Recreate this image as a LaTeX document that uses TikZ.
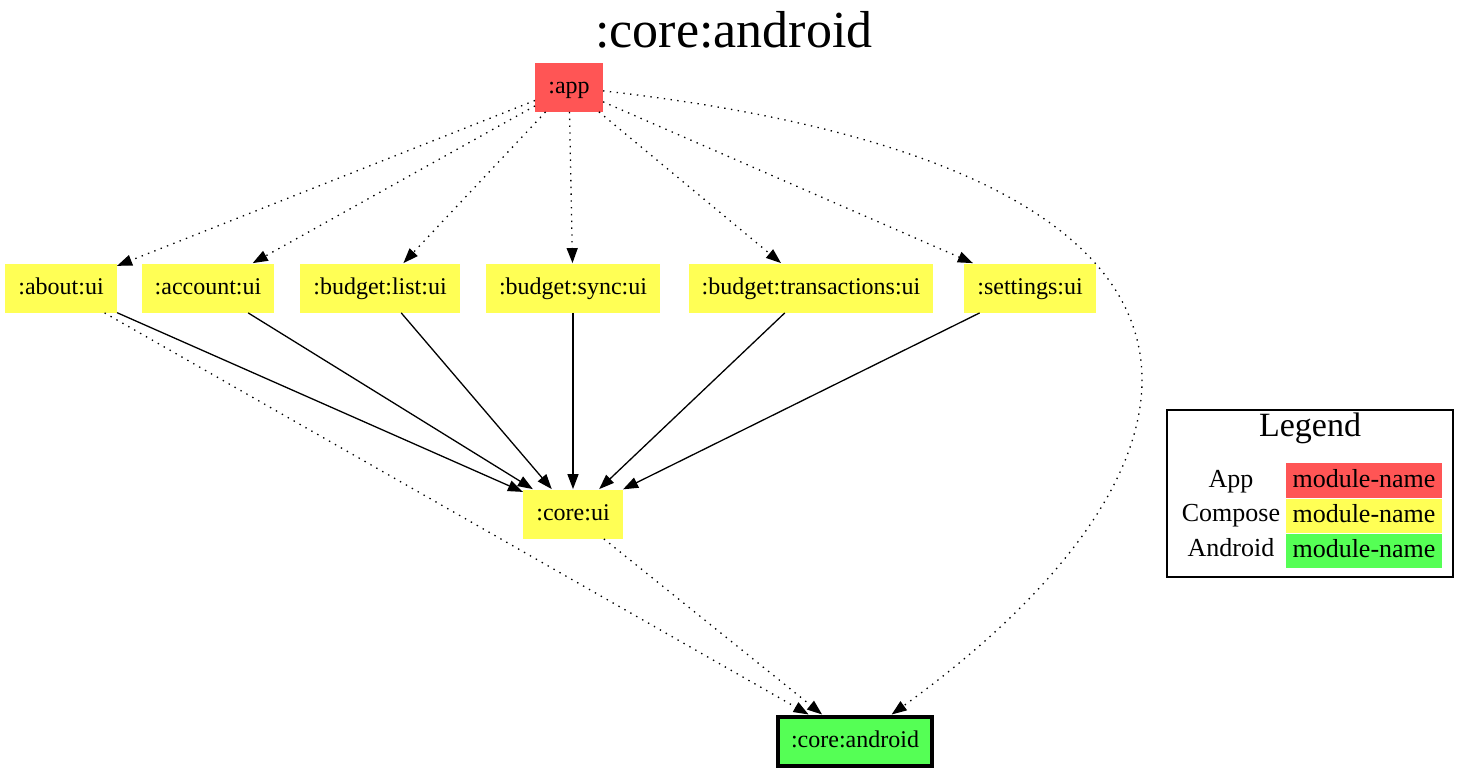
\documentclass[tikz,border=0pt]{standalone}
\usepackage{fontspec}
\setmainfont{Liberation Serif}
\usetikzlibrary{arrows.meta,positioning}
\definecolor{appred}{HTML}{FF5555}
\definecolor{composeyellow}{HTML}{FFFF55}
\definecolor{androidgreen}{HTML}{55FF55}
\tikzset{
    %Define standard arrow tip
    >={Triangle[length=7.5pt,width=5.5pt]},
    %Define style for module boxes
    module/.style={
           rectangle,
           inner xsep=6.5pt,
           text height=8.5pt,
           text depth=2pt,
           minimum height=24.5pt,
           font=\fontsize{12}{14}\selectfont},
    appmod/.style={module, fill=appred},
    composemod/.style={module, fill=composeyellow},
    androidmod/.style={module, fill=androidgreen, draw=black, line width=2pt},
    %Define style for the legend
    legendcell/.style={
           rectangle,
           inner sep=0pt,
           text height=8.5pt,
           text depth=2pt,
           minimum width=78pt,
           minimum height=17.25pt,
           font=\fontsize{13}{15}\selectfont},
    legendlabel/.style={
           text height=8.5pt,
           text depth=2pt,
           font=\fontsize{13}{15}\selectfont},
    % Define arrow styles
    dep/.style={->, line width=0.65pt},
    impl/.style={->, line width=0.65pt, dash pattern=on 0.7pt off 2.7pt}
}
\begin{document}
\begin{tikzpicture}[x=0.5pt, y=-0.5pt]
 \useasboundingbox (0,0) rectangle (1469,772);

 \node[font=\fontsize{26}{30}\selectfont] (title) at (734,30) {:core:android};

 \node[appmod] (app) at (569,87) {:app};

 \node[composemod] (aboutui) at (61,288) {:about:ui};
 \node[composemod] (accountui) at (208,288) {:account:ui};
 \node[composemod] (budgetlistui) at (380,288) {:budget:list:ui};
 \node[composemod] (budgetsyncui) at (573,288) {:budget:sync:ui};
 \node[composemod] (budgettransactionsui) at (811,288) {:budget:transactions:ui};
 \node[composemod] (settingsui) at (1030,288) {:settings:ui};

 \node[composemod] (coreui) at (573,514) {:core:ui};
 \node[androidmod] (coreandroid) at (855,741) {:core:android};

 % app to the ui modules
 \foreach \m in {aboutui,accountui,budgetlistui,budgetsyncui,budgettransactionsui,settingsui}
   \draw[impl] (app) -- (\m);
 \draw[impl] (app) .. controls (1300,170) and (1230,470) .. (coreandroid);

 % ui modules to core ui
 \foreach \m in {aboutui,accountui,budgetlistui,budgetsyncui,budgettransactionsui,settingsui}
   \draw[dep] (\m) -- (coreui);

 \draw[impl] (aboutui) -- (coreandroid);
 \draw[impl] (coreui) -- (coreandroid);

 % legend
 \node[draw, line width=0.7pt, minimum width=143pt, minimum height=83.5pt] (legend) at (1310,493.5) {};
 \node[font=\fontsize{17}{20}\selectfont] (legendtitle) at (1310,428) {Legend};
 \node[legendcell, fill=appred] (legendapp) at (1364,480.5) {module-name};
 \node[legendcell, fill=composeyellow, below=0pt of legendapp] (legendcompose) {module-name};
 \node[legendcell, fill=androidgreen, below=0pt of legendcompose] (legendandroid) {module-name};
 \node[legendlabel] (labelapp) at (1231,480.5) {App};
 \node[legendlabel] (labelcompose) at (1231,515) {Compose};
 \node[legendlabel] (labelandroid) at (1231,549.5) {Android};

\end{tikzpicture}
\end{document}
